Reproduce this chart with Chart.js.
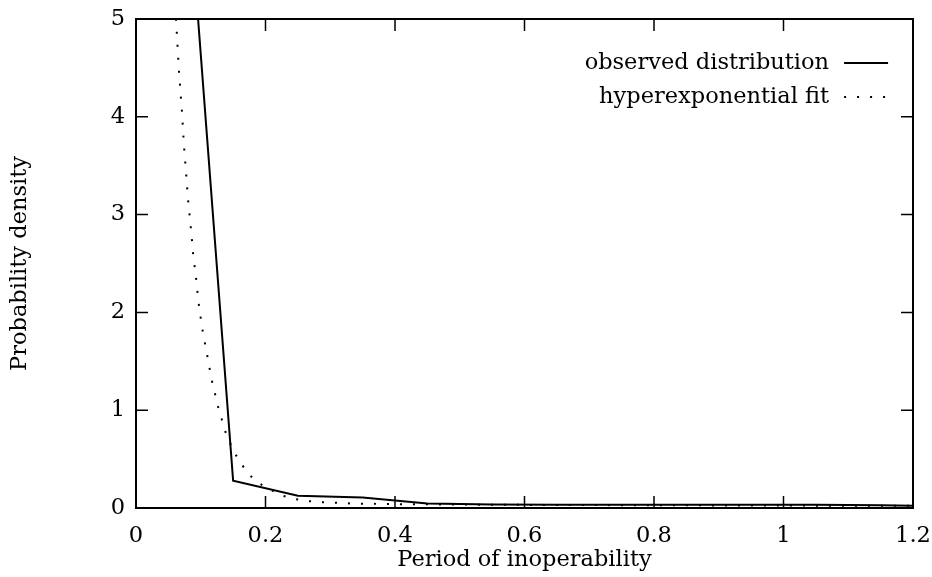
<!DOCTYPE html>
<html>
<head>
<meta charset="utf-8">
<script src="https://cdn.jsdelivr.net/npm/chart.js@4.4.1/dist/chart.umd.min.js"></script>
<style>
  html, body { margin: 0; padding: 0; background: #fff; }
  #wrap { width: 932px; height: 577px; }
</style>
</head>
<body>
<div id="wrap"><canvas id="chart" width="932" height="577"></canvas></div>
<script>
// tick labels
const xTicks = [0, 0.2, 0.4, 0.6, 0.8, 1, 1.2];
const yTicks = [0, 1, 2, 3, 4, 5];

// observed distribution (bin centres)
const observedX = [0.05, 0.15, 0.25, 0.35, 0.45, 0.55, 0.65, 0.75, 0.85, 0.95, 1.05, 1.15, 1.25];
const observedY = [9.0, 0.28, 0.125, 0.108, 0.045, 0.036, 0.034, 0.034, 0.034, 0.034, 0.032, 0.027, 0.02];

// hyperexponential fit
const fitX = [0.058, 0.0629, 0.0664, 0.071, 0.0741, 0.0772, 0.0803, 0.0849, 0.0885, 0.0937, 0.0962,
              0.1019, 0.1092, 0.1169, 0.1266, 0.139, 0.1509, 0.1617, 0.1734, 0.188, 0.2239, 0.2447,
              0.264, 0.284, 0.305, 0.326, 0.346, 0.4, 0.5, 0.6, 0.8, 1.0, 1.2];
const fitY = [5.4, 4.87, 4.46, 4.05, 3.7, 3.44, 3.16, 2.85, 2.58, 2.3, 2.12,
              1.85, 1.59, 1.31, 1.04, 0.76, 0.58, 0.46, 0.35, 0.26, 0.13, 0.092,
              0.072, 0.061, 0.054, 0.048, 0.044, 0.04, 0.035, 0.032, 0.028, 0.025, 0.022];

const seriesNames = ['observed distribution', 'hyperexponential fit'];

const FONT = 'DejaVu Serif';
const FSIZE = 22.5;
const DOTS = [2, 11];

const toPoints = (xs, ys) => xs.map((x, i) => ({ x, y: ys[i] }));

// frame, inward ticks on all four sides, and the key
const framePlugin = {
  id: 'frame',
  afterDatasetsDraw(chart) {
    const { ctx, chartArea: a, scales } = chart;
    const tl = 12;
    ctx.save();
    ctx.strokeStyle = '#000';
    ctx.lineWidth = 1.5;
    ctx.beginPath();
    xTicks.forEach(v => {
      const px = scales.x.getPixelForValue(v);
      ctx.moveTo(px, a.bottom); ctx.lineTo(px, a.bottom - tl);
      ctx.moveTo(px, a.top); ctx.lineTo(px, a.top + tl);
    });
    yTicks.forEach(v => {
      const py = scales.y.getPixelForValue(v);
      ctx.moveTo(a.left, py); ctx.lineTo(a.left + tl, py);
      ctx.moveTo(a.right, py); ctx.lineTo(a.right - tl, py);
    });
    ctx.stroke();
    ctx.lineWidth = 2;
    ctx.strokeRect(a.left, a.top, a.right - a.left, a.bottom - a.top);

    // key
    const textRight = a.left + (a.right - a.left) * 0.892;
    const rows = [a.top + 44, a.top + 78];
    ctx.font = FSIZE + 'px "' + FONT + '"';
    ctx.fillStyle = '#000';
    ctx.textAlign = 'right';
    ctx.textBaseline = 'middle';
    chart.data.datasets.forEach((ds, i) => {
      ctx.fillText(ds.label, textRight, rows[i]);
      ctx.beginPath();
      ctx.lineWidth = 2;
      ctx.setLineDash(ds.borderDash || []);
      ctx.moveTo(textRight + 15, rows[i]);
      ctx.lineTo(textRight + 59, rows[i]);
      ctx.stroke();
    });
    ctx.restore();
  }
};

new Chart(document.getElementById('chart'), {
  type: 'line',
  data: {
    datasets: [
      {
        label: seriesNames[0],
        data: toPoints(observedX, observedY),
        borderColor: '#000',
        borderWidth: 2,
        pointRadius: 0,
        tension: 0
      },
      {
        label: seriesNames[1],
        data: toPoints(fitX, fitY),
        borderColor: '#000',
        borderWidth: 2,
        borderDash: DOTS,
        pointRadius: 0,
        tension: 0
      }
    ]
  },
  options: {
    responsive: false,
    animation: false,
    layout: { padding: { top: 19, right: 19, left: 0, bottom: 0 } },
    plugins: { legend: { display: false }, tooltip: { enabled: false } },
    scales: {
      x: {
        type: 'linear',
        min: 0,
        max: 1.2,
        afterBuildTicks: s => { s.ticks = xTicks.map(v => ({ value: v })); },
        afterFit: s => { s.height = 69; s.paddingLeft = 0; s.paddingRight = 0; },
        grid: { display: false, drawTicks: false },
        border: { display: false },
        ticks: {
          color: '#000',
          padding: 15,
          maxRotation: 0,
          font: { family: FONT, size: FSIZE },
          callback: v => String(Number(v.toFixed(1)))
        },
        title: {
          display: true,
          text: 'Period of inoperability',
          color: '#000',
          padding: { top: 0, bottom: 3 },
          font: { family: FONT, size: FSIZE }
        }
      },
      y: {
        min: 0,
        max: 5,
        afterBuildTicks: s => { s.ticks = yTicks.map(v => ({ value: v })); },
        afterFit: s => { s.width = 136; s.paddingTop = 0; s.paddingBottom = 0; },
        grid: { display: false, drawTicks: false },
        border: { display: false },
        ticks: {
          color: '#000',
          padding: 11,
          font: { family: FONT, size: FSIZE },
          callback: v => String(v)
        },
        title: {
          display: true,
          text: 'Probability density',
          color: '#000',
          padding: { top: 7, bottom: 0 },
          font: { family: FONT, size: FSIZE }
        }
      }
    }
  },
  plugins: [framePlugin]
});
</script>
</body>
</html>
